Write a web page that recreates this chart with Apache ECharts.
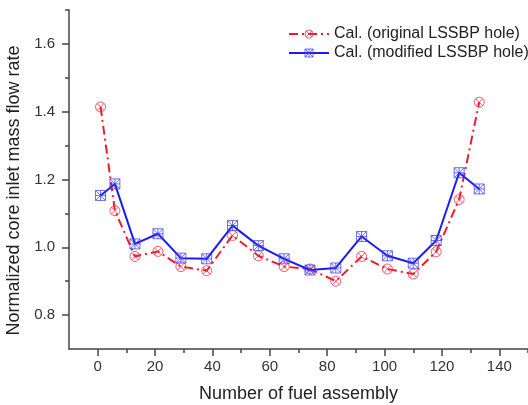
<!DOCTYPE html>
<html>
<head>
<meta charset="utf-8">
<script src="https://cdn.jsdelivr.net/npm/echarts@6/dist/echarts.min.js"></script>
<style>
  html, body { margin: 0; padding: 0; background: #fff; }
  #chart { width: 528px; height: 405px; }
</style>
</head>
<body>
<div id="chart"></div>
<script>
// 数据
var assembly = [1, 6, 13, 21, 29, 38, 47, 56, 65, 74, 83, 92, 101, 110, 118, 126, 133];
var original = [1.414, 1.108, 0.973, 0.988, 0.943, 0.931, 1.035, 0.975, 0.943, 0.936, 0.900, 0.973, 0.936, 0.921, 0.987, 1.141, 1.428];
var modified = [1.153, 1.187, 1.010, 1.040, 0.968, 0.966, 1.064, 1.005, 0.966, 0.933, 0.939, 1.032, 0.975, 0.953, 1.020, 1.220, 1.172];
var xMajor = [0, 20, 40, 60, 80, 100, 120, 140];
var xMinor = [10, 30, 50, 70, 90, 110, 130, 150];
var yMajor = [0.8, 1.0, 1.2, 1.4, 1.6];
var yMinor = [0.9, 1.1, 1.3, 1.5, 1.7];

(function () {
    var myChart = echarts.init(document.getElementById("chart"));
    var font = "Liberation Sans, Arial, sans-serif";
    var axisColor = "#444";
    var red = "#ee1c2a";
    var blue = "#1c1cf0";
    var redMark = "rgba(238,40,60,0.75)";
    var blueMark = "rgba(60,60,240,0.75)";
    var clear = "rgba(255,255,255,0)";

    function pairs(ys) {
        return assembly.map(function (x, i) { return [x, ys[i]]; });
    }

    // 符号
    var circleX = "path://M10,1A9,9,0,1,1,9.99,1Z M3.6,3.6L16.4,16.4 M16.4,3.6L3.6,16.4";
    var squareX = "path://M1,1L19,1L19,19L1,19Z M1,1L19,19 M19,1L1,19 M10,1L10,19 M1,10L19,10";

    var option = {
        animation: false,
        textStyle: { fontFamily: font },
        grid: { left: 69, right: 0, top: 10, bottom: 56, outerBoundsMode: "none" },
        legend: {
            orient: "vertical",
            left: 288,
            top: 26,
            padding: 0,
            itemWidth: 40,
            itemHeight: 10,
            itemGap: 3,
            textStyle: { fontSize: 16, color: "#222", fontFamily: font },
            data: [
                { name: "Cal. (original LSSBP hole)", itemStyle: { color: clear, borderColor: redMark, borderWidth: 1 } },
                { name: "Cal. (modified LSSBP hole)", itemStyle: { color: clear, borderColor: blueMark, borderWidth: 1 } }
            ]
        },
        xAxis: [
            {
                type: "value",
                min: -10,
                max: 150,
                name: "Number of fuel assembly",
                nameLocation: "middle",
                nameGap: 36,
                nameTextStyle: { fontSize: 18, color: "#222", fontFamily: font },
                axisLine: { show: true, onZero: false, lineStyle: { color: axisColor, width: 1.5 } },
                axisTick: { show: true, customValues: xMajor, length: 7, lineStyle: { color: axisColor, width: 1.5 } },
                axisLabel: { customValues: xMajor, fontSize: 15, color: "#333", margin: 10 },
                splitLine: { show: false }
            },
            {
                type: "value",
                min: -10,
                max: 150,
                position: "bottom",
                offset: 0,
                axisLine: { show: false, onZero: false },
                axisTick: { show: true, customValues: xMinor, length: 4, lineStyle: { color: axisColor, width: 1.5 } },
                axisLabel: { show: false },
                splitLine: { show: false }
            }
        ],
        yAxis: [
            {
                type: "value",
                min: 0.7,
                max: 1.7,
                name: "Normalized core inlet mass flow rate",
                nameLocation: "middle",
                nameGap: 38,
                nameTextStyle: { fontSize: 18, color: "#222", fontFamily: font, padding: [0, 22, 0, 0] },
                axisLine: { show: true, onZero: false, lineStyle: { color: axisColor, width: 1.5 } },
                axisTick: { show: true, customValues: yMajor, length: 7, lineStyle: { color: axisColor, width: 1.5 } },
                axisLabel: {
                    customValues: yMajor,
                    fontSize: 15,
                    color: "#333",
                    margin: 14,
                    formatter: function (v) { return v.toFixed(1); }
                },
                splitLine: { show: false }
            },
            {
                type: "value",
                min: 0.7,
                max: 1.7,
                position: "left",
                offset: 0,
                axisLine: { show: false, onZero: false },
                axisTick: { show: true, customValues: yMinor, length: 4, lineStyle: { color: axisColor, width: 1.5 } },
                axisLabel: { show: false },
                splitLine: { show: false }
            }
        ],
        series: [
            {
                name: "Cal. (original LSSBP hole)",
                type: "line",
                data: pairs(original),
                symbol: circleX,
                symbolSize: 10,
                lineStyle: { color: red, width: 2, type: [9, 4, 2, 4] },
                itemStyle: { color: clear, borderColor: redMark, borderWidth: 1 },
                z: 2
            },
            {
                name: "Cal. (modified LSSBP hole)",
                type: "line",
                data: pairs(modified),
                symbol: squareX,
                symbolSize: 10,
                lineStyle: { color: blue, width: 2 },
                itemStyle: { color: clear, borderColor: blueMark, borderWidth: 1 },
                z: 3
            }
        ]
    };
    myChart.setOption(option);
    window.addEventListener("resize", function () {
        myChart.resize();
    });
})();
</script>
</body>
</html>
